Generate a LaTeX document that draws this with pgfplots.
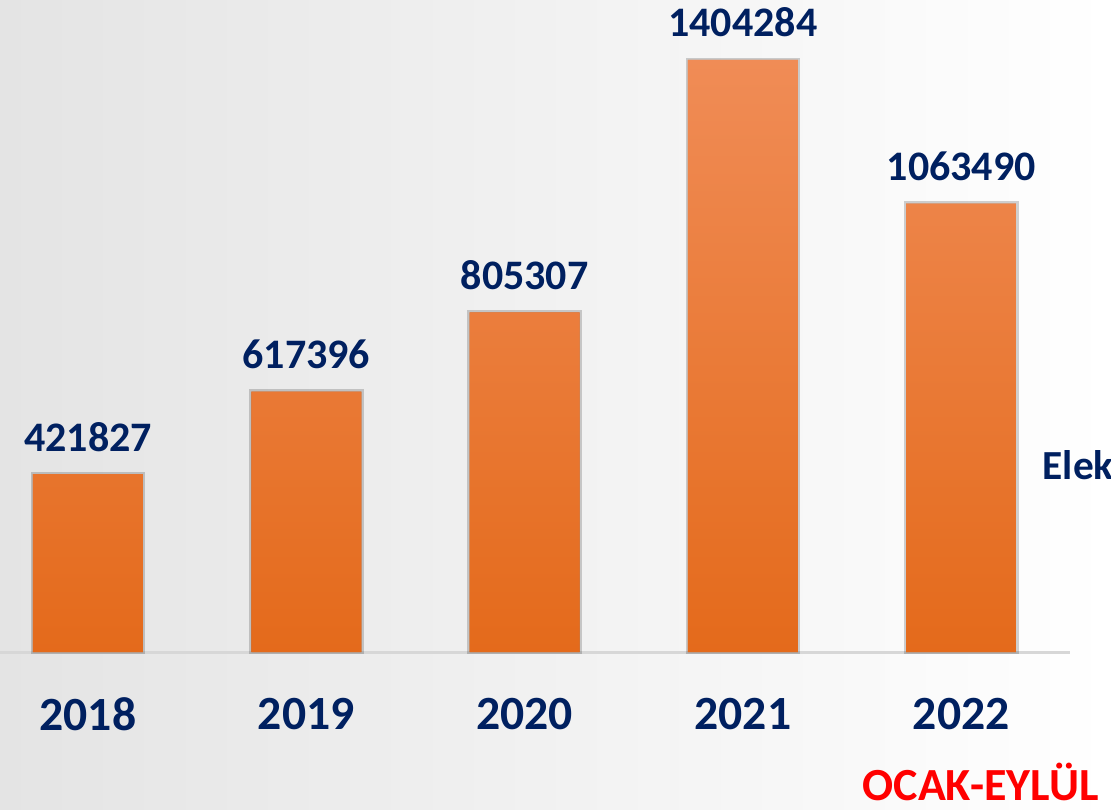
\documentclass[border=0pt]{standalone}
\usepackage{pgfplots}
\pgfplotsset{compat=1.18}
\usepackage{fontspec}
\setmainfont{Carlito}
\definecolor{navy}{RGB}{0,32,96}
\definecolor{barTop}{RGB}{240,140,86}
\definecolor{barMid}{RGB}{244,127,44}
\definecolor{barBot}{RGB}{228,106,27}
\definecolor{bgGray}{RGB}{228,228,228}
\definecolor{baseGray}{RGB}{215,215,215}

\begin{document}
\begin{tikzpicture}[x=0.3pt,y=0.3pt]
% picture frame: 1111 x 809 px
\clip (0,0) rectangle (1111,809);
\shade[left color=bgGray, right color=white] (0,0) rectangle (1111,809);

\begin{axis}[
    at={(0pt,47.1pt)}, anchor=south west,
    scale only axis,
    width=333.3pt, height=195.6pt,
    xmin=-0.403, xmax=4.686,
    ymin=0, ymax=1546500,
    clip=false,
    axis line style={draw=none},
    ytick=\empty,
    xtick={0,1,2,3,4},
    xticklabels={2018,2019,2020,2021,2022},
    major tick length=0pt,
    xticklabel style={font=\fontsize{14.3pt}{16pt}\selectfont\bfseries,
        text=navy, anchor=center, yshift=-18.6pt},
    ybar, bar width=33pt,
    point meta=explicit symbolic,
    nodes near coords,
    every node near coord/.append style={font=\fontsize{12.6pt}{14pt}\selectfont\bfseries,
        text=navy, anchor=south, inner sep=0pt, yshift=6.6pt},
]
\draw[baseGray, line width=0.9pt] (axis cs:-0.403,0) -- (axis cs:4.498,0);
\addplot[draw=none, top color=barTop, middle color=barMid, bottom color=barBot,
    preaction={draw=black, draw opacity=0.18, line width=1.4pt}]
    coordinates {
    (0,421827)  [421827]
    (1,617396)  [617396]
    (2,805307)  [805307]
    (3,1404284) [1404284]
    (4,1063490) [1063490]
};
\end{axis}

\node[anchor=west, inner sep=0pt, text=navy,
    font=\fontsize{12.4pt}{14pt}\selectfont\bfseries] at (1042,344) {Elek};
\node[anchor=west, inner sep=0pt, text=red,
    font=\fontsize{13.8pt}{15pt}\selectfont\bfseries] at (862,27) {OCAK-EYLÜL};
\end{tikzpicture}
\end{document}
